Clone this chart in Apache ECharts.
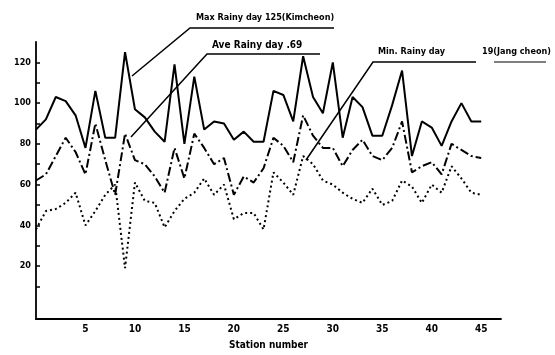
<!DOCTYPE html>
<html>
<head>
<meta charset="utf-8">
<script src="https://cdn.jsdelivr.net/npm/echarts@6/dist/echarts.min.js"></script>
<style>
html,body{margin:0;padding:0;background:#fff;}
#chart{width:555px;height:355px;}
</style>
</head>
<body>
<div id="chart"></div>
<script>
// Station numbers (x)
const stations = [0,1,2,3,4,5,6,7,8,9,10,11,12,13,14,15,16,17,18,19,20,21,22,23,24,25,26,27,28,29,30,31,32,33,34,35,36,37,38,39,40,41,42,43,44,45];
// Rainy days
const maxDays = [87,92,103,101,94,78,106,83,83,125,97,93,86,81,119,80,113,87,91,90,82,86,81,81,106,104,91,123,103,95,120,83,103,98,84,84,99,116,74,91,88,79,91,100,91,91];
const aveDays = [62,65,74,83,76,65,90,72,55,85,72,70,64,56,78,63,85,78,70,73,55,64,61,68,83,79,71,94,84,78,78,69,77,82,74,72,78,91,66,69,71,65,80,77,74,73];
const minDays = [38,47,48,51,56,40,47,55,60,19,61,52,51,39,47,53,56,63,55,60,43,46,46,38,66,61,55,74,70,62,60,56,53,51,58,50,52,62,59,51,60,56,69,63,56,55];
// Tick labels
const xTicks = [5,10,15,20,25,30,35,40,45];
const yTicks = [20,40,60,80,100,120];
const yMinorTicks = [10,20,30,40,50,60,70,80,90,100,110,120];

const FONT = "'DejaVu Sans Condensed','Liberation Sans',sans-serif";
const pairs = arr => stations.map((s,i)=>[s,arr[i]]);

const chart = echarts.init(document.getElementById('chart'), null, {renderer:'canvas'});
const lineText = (x,y,text,size)=>({type:'text',left:x,top:y,style:{text:text,font:'bold '+(size||10)+'px '+FONT,fill:'#000'}});
const seg = (pts,w)=>({type:'polyline',shape:{points:pts},style:{stroke:'#000',lineWidth:w||1.5,fill:null}});

chart.setOption({
  animation:false,
  backgroundColor:'#fff',
  grid:{left:36,top:42,width:465,height:279,containLabel:false},
  xAxis:{
    type:'value',min:0,max:47,
    name:'Station number',nameLocation:'middle',nameGap:21,
    nameTextStyle:{color:'#000',fontFamily:FONT,fontSize:10,fontWeight:'bold'},
    axisLine:{show:true,onZero:false,lineStyle:{color:'#000',width:1.8}},
    axisTick:{show:false},
    splitLine:{show:false},
    axisLabel:{customValues:xTicks,color:'#000',fontFamily:FONT,fontSize:10,fontWeight:'bold',margin:5}
  },
  yAxis:{
    type:'value',min:-6,max:130,
    axisLine:{show:true,onZero:false,lineStyle:{color:'#000',width:1.8}},
    axisTick:{show:true,customValues:yMinorTicks,inside:true,length:4,lineStyle:{color:'#000',width:1.5}},
    splitLine:{show:false},
    axisLabel:{customValues:yTicks,color:'#000',fontFamily:FONT,fontSize:9,fontWeight:'bold',margin:5}
  },
  series:[
    {name:'Max',type:'line',data:pairs(maxDays),symbol:'none',
     lineStyle:{color:'#000',width:2}},
    {name:'Ave',type:'line',data:pairs(aveDays),symbol:'none',
     lineStyle:{color:'#000',width:2,type:[9,3,2,3]}},
    {name:'Min',type:'line',data:pairs(minDays),symbol:'none',
     lineStyle:{color:'#000',width:2,type:[2,3]}}
  ],
  graphic:[
    lineText(196,13,'Max Rainy day 125(Kimcheon)',9),
    seg([[132,76],[190,28],[334,28]]),
    lineText(212,40,'Ave Rainy day .69',10),
    seg([[131,137],[207,54],[320,54]]),
    lineText(378,47,'Min. Rainy day',9),
    lineText(482,47,'19(Jang cheon)',9),
    seg([[306,160],[373,62],[476,62]]),
    seg([[494,62],[546,62]],1.2)
  ]
});
</script>
</body>
</html>
